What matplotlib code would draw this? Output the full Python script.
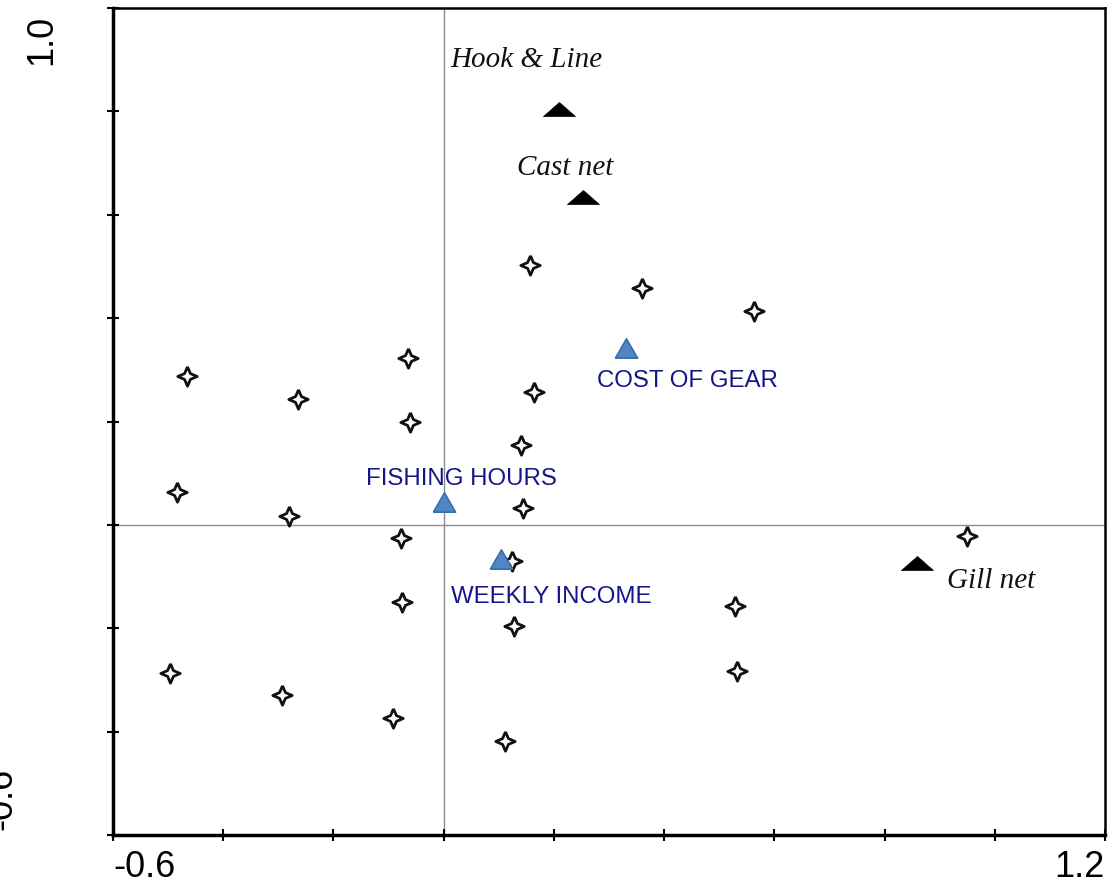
import matplotlib
matplotlib.use("Agg")
import matplotlib.pyplot as plt

# site scores (stars)
site_x = [0.157, 0.360, 0.563, -0.065, -0.466, -0.264, 0.164, -0.061, 0.140, -0.484,
          -0.281, 0.144, -0.077, 0.124, 0.950, -0.076, 0.128, 0.529, -0.497, -0.293,
          0.532, -0.092, 0.111]
site_y = [0.503, 0.458, 0.414, 0.323, 0.288, 0.244, 0.257, 0.199, 0.155, 0.064,
          0.017, 0.033, -0.025, -0.070, -0.021, -0.149, -0.195, -0.157, -0.286, -0.329,
          -0.282, -0.373, -0.418]

# gear types (black triangles)
gear_names = ["Hook & Line", "Cast net", "Gill net"]
gear_x = [0.209, 0.253, 0.859]
gear_y = [0.805, 0.634, -0.074]

# explanatory variables (blue triangles)
var_names = ["COST OF GEAR", "FISHING HOURS", "WEEKLY INCOME"]
var_x = [0.331, 0.000, 0.104]
var_y = [0.342, 0.044, -0.066]

# label offsets in pixels and alignment
gear_offsets = [(-32, 49, "center"), (-18, 29, "center"), (30, -18, "left")]
var_offsets = [(61, -33, "center"), (18, 23, "center"), (50, -38, "center")]

x_ticks = [-0.6, -0.4, -0.2, 0.0, 0.2, 0.4, 0.6, 0.8, 1.0, 1.2]
y_ticks = [-0.6, -0.4, -0.2, 0.0, 0.2, 0.4, 0.6, 0.8, 1.0]

r = 0.3
star = [(0, 1), (r, r), (1, 0), (r, -r), (0, -1), (-r, -r),
        (-1, 0), (-r, r), (0, 1)]
flat_tri = [(-1, -0.44), (1, -0.44), (0, 0.44), (-1, -0.44)]
blue_tri = [(-1, -0.87), (1, -0.87), (0, 0.87), (-1, -0.87)]

fig = plt.figure(figsize=(11.08, 8.84), dpi=100)
ax = fig.add_axes([113 / 1108, 49 / 884, 992 / 1108, 827 / 884])

ax.axhline(0, color="#8c8c8c", lw=1, zorder=1)
ax.axvline(0, color="#8c8c8c", lw=1, zorder=1)

ax.plot(site_x, site_y, ls="none", marker=star, ms=14, mfc="white",
        mec="#111111", mew=2, zorder=3)
ax.plot(gear_x, gear_y, ls="none", marker=flat_tri, ms=23, mfc="black",
        mec="black", mew=0.5, zorder=3)
ax.plot(var_x, var_y, ls="none", marker=blue_tri, ms=16, mfc="#4f86c6",
        mec="#3b6ea8", mew=1.2, zorder=4)

for name, x, y, (dx, dy, ha) in zip(gear_names, gear_x, gear_y, gear_offsets):
    ax.annotate(name, (x, y), xytext=(dx, dy), textcoords="offset pixels",
                ha=ha, va="center", fontsize=21, style="italic",
                family="Liberation Serif", color="#111111")

for name, x, y, (dx, dy, ha) in zip(var_names, var_x, var_y, var_offsets):
    ax.annotate(name, (x, y), xytext=(dx, dy), textcoords="offset pixels",
                ha=ha, va="center", fontsize=17.3, family="Liberation Sans",
                color="#15158a")

ax.set_xlim(-0.6, 1.2)
ax.set_ylim(-0.6, 1.0)

ax.set_xticks(x_ticks)
ax.set_xticklabels(["-0.6"] + [""] * 8 + ["1.2"], fontsize=26,
                   family="Liberation Sans")
xl = ax.get_xticklabels()
xl[0].set_ha("left")
xl[-1].set_ha("right")
ax.set_yticks(y_ticks)
ax.set_yticklabels([])
ax.tick_params(direction="inout", length=9, width=1.5, color="black")
ax.tick_params(axis="x", pad=6)

# y end labels, rotated
yax = ax.get_yaxis_transform()
ax.text(-0.054, 1.0 - 7 / 517, "1.0", transform=yax, rotation=90, ha="right",
        va="top", fontsize=26, family="Liberation Sans")
ax.text(-0.094, -0.6 + 5 / 517, "-0.6", transform=yax, rotation=90, ha="right",
        va="bottom", fontsize=26, family="Liberation Sans")

for side in ["left", "bottom"]:
    ax.spines[side].set_linewidth(2.5)
for side in ["top", "right"]:
    ax.spines[side].set_linewidth(1.8)

fig.savefig("out.png", dpi=100)
